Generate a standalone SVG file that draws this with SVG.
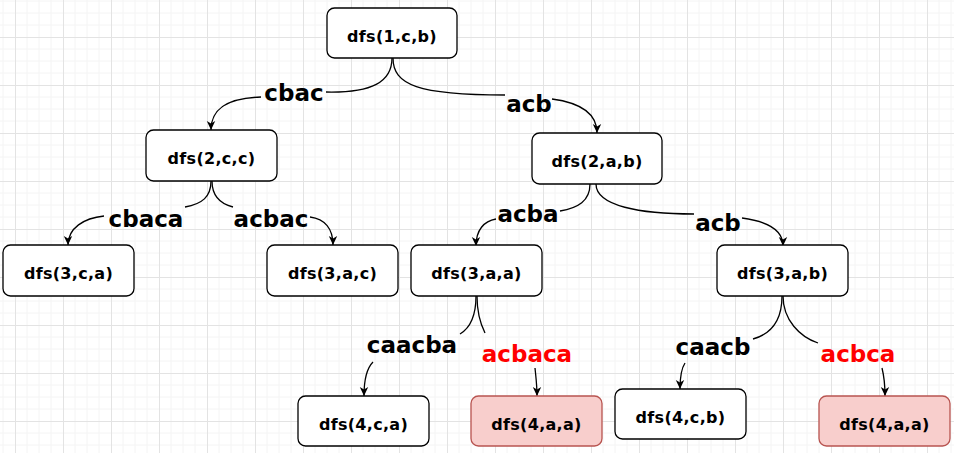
<svg xmlns="http://www.w3.org/2000/svg" width="954" height="453" viewBox="0 0 954 453">
<defs>
<pattern id="grid" x="15" y="37" width="48" height="48" patternUnits="userSpaceOnUse">
<path d="M12,0V48M24,0V48M36,0V48M0,12H48M0,24H48M0,36H48" stroke="#f4f4f4" stroke-width="1" fill="none"/>
<path d="M0.5,0V48M0,0.5H48" stroke="#e3e3e3" stroke-width="1" fill="none"/>
</pattern>
<marker id="arr" markerUnits="userSpaceOnUse" markerWidth="10" markerHeight="10" refX="9" refY="5" orient="auto" viewBox="0 0 10 10">
<path d="M0,0.8 L9,5 L0,9.2 L2.6,5 Z" fill="#000"/>
</marker>
<style>
.box{fill:#fff;stroke:#000;stroke-width:1.3}
.red{fill:#f8cecc;stroke:#b85450;stroke-width:1.3}
.nt{font-family:"DejaVu Sans",sans-serif;font-weight:bold;font-size:16px;fill:#000;text-anchor:middle;letter-spacing:0.3px}
.lb{font-family:"DejaVu Sans",sans-serif;font-weight:bold;font-size:23px;fill:#000;text-anchor:middle}
.lr{fill:#ff0000}
.e{fill:none;stroke:#000;stroke-width:1.3}
</style>
</defs>
<rect width="954" height="453" fill="#fff"/>
<rect width="954" height="453" fill="url(#grid)"/>

<g id="connectors">
<path class="e" d="M392,58 C392,82 372,93 326,92"/>
<path class="e" d="M261,97 C228,98 211,108 211,130" marker-end="url(#arr)"/>
<path class="e" d="M393,58 C393,85 418,95 505,95"/>
<path class="e" d="M552,99 C582,103 597,114 597,133" marker-end="url(#arr)"/>
<path class="e" d="M211,181 C211,197 202,204 185,207"/>
<path class="e" d="M104,216 C84,218 68,228 68,245" marker-end="url(#arr)"/>
<path class="e" d="M212,181 C212,197 221,204 233,207"/>
<path class="e" d="M310,217 C325,219 333,229 333,245" marker-end="url(#arr)"/>
<path class="e" d="M590,184 C590,201 578,208 560,211"/>
<path class="e" d="M496,219 C484,221 476,230 476,246" marker-end="url(#arr)"/>
<path class="e" d="M596,184 C596,206 640,214 694,214"/>
<path class="e" d="M742,218 C765,221 783,229 783,246" marker-end="url(#arr)"/>
<path class="e" d="M476,296 C476,316 470,328 460,334"/>
<path class="e" d="M373,362 C366,369 364,380 364,396" marker-end="url(#arr)"/>
<path class="e" d="M477,296 C477,314 481,325 485,333"/>
<path class="e" d="M535,368 C536,378 537,385 537,396" marker-end="url(#arr)"/>
<path class="e" d="M782,296 C782,320 771,334 753,339"/>
<path class="e" d="M685,363 C681,369 680,377 680,389" marker-end="url(#arr)"/>
<path class="e" d="M783,296 C783,320 800,337 818,343"/>
<path class="e" d="M882,368 C884,376 885,384 885,396" marker-end="url(#arr)"/>
<text class="lb" x="294" y="101">cbac</text>
<text class="lb" x="529" y="112">acb</text>
<text class="lb" x="146" y="227">cbaca</text>
<text class="lb" x="271" y="227">acbac</text>
<text class="lb" x="528" y="222">acba</text>
<text class="lb" x="718" y="231">acb</text>
<text class="lb" x="412" y="353">caacba</text>
<text class="lb lr" x="527" y="362">acbaca</text>
<text class="lb" x="713" y="355">caacb</text>
<text class="lb lr" x="858" y="362">acbca</text>
</g>

<g id="n1"><rect class="box" x="327" y="8" width="130" height="50" rx="7.5"/><text class="nt" x="392" y="42">dfs(1,c,b)</text></g>
<g id="n2"><rect class="box" x="146" y="130" width="131" height="51" rx="7.5"/><text class="nt" x="211.5" y="164">dfs(2,c,c)</text></g>
<g id="n3"><rect class="box" x="532" y="133" width="130" height="51" rx="7.5"/><text class="nt" x="597" y="167">dfs(2,a,b)</text></g>
<g id="n4"><rect class="box" x="3" y="245" width="131" height="51" rx="7.5"/><text class="nt" x="68.5" y="279">dfs(3,c,a)</text></g>
<g id="n5"><rect class="box" x="267" y="245" width="131" height="51" rx="7.5"/><text class="nt" x="332.5" y="279">dfs(3,a,c)</text></g>
<g id="n6"><rect class="box" x="411" y="245" width="131" height="51" rx="7.5"/><text class="nt" x="476.5" y="279">dfs(3,a,a)</text></g>
<g id="n7"><rect class="box" x="717" y="245" width="131" height="51" rx="7.5"/><text class="nt" x="782.5" y="279">dfs(3,a,b)</text></g>
<g id="n8"><rect class="box" x="298" y="396" width="131" height="50" rx="7.5"/><text class="nt" x="363.5" y="430">dfs(4,c,a)</text></g>
<g id="n9"><rect class="red" x="471" y="396" width="131" height="50" rx="7.5"/><text class="nt" x="536.5" y="430">dfs(4,a,a)</text></g>
<g id="n10"><rect class="box" x="615" y="389" width="131" height="50" rx="7.5"/><text class="nt" x="680.5" y="423">dfs(4,c,b)</text></g>
<g id="n11"><rect class="red" x="819" y="396" width="131" height="50" rx="7.5"/><text class="nt" x="884.5" y="430">dfs(4,a,a)</text></g>
</svg>
